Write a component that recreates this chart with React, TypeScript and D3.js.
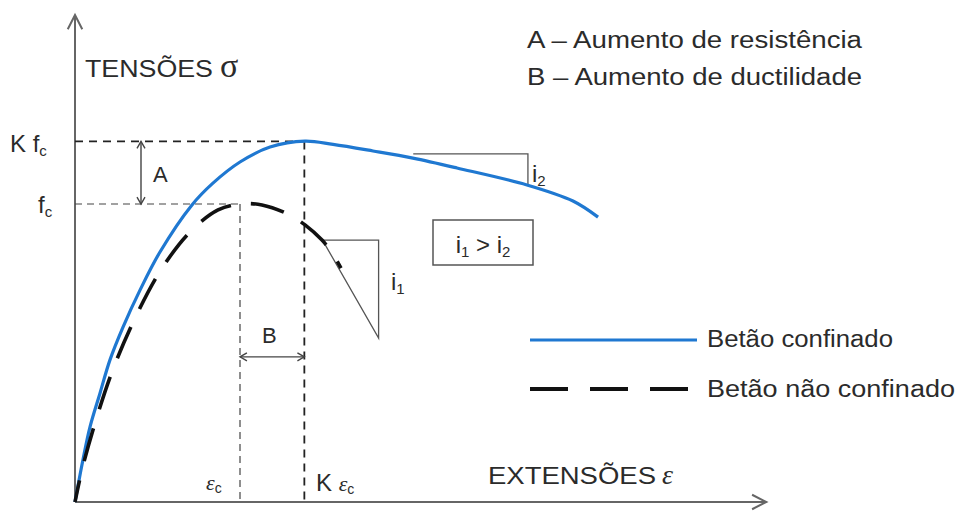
import React from "react";
import * as d3 from "d3";

// strain in units of εc, stress in units of fc
const confinedStrain = [0, 0.048, 0.091, 0.152, 0.212, 0.291, 0.394, 0.515, 0.709, 0.836, 1.0, 1.182, 1.394, 1.564, 1.806, 2.048, 2.315, 2.739, 3.018, 3.17];
const confinedStress = [0, 0.141, 0.252, 0.366, 0.477, 0.587, 0.711, 0.839, 0.997, 1.07, 1.141, 1.191, 1.211, 1.2, 1.178, 1.154, 1.121, 1.064, 1.01, 0.956];
const unconfinedStrain = [0, 0.042, 0.109, 0.224, 0.364, 0.521, 0.697, 0.867, 1.0, 1.133, 1.291, 1.394, 1.497, 1.558, 1.612];
const unconfinedStress = [0, 0.107, 0.242, 0.436, 0.617, 0.779, 0.906, 0.98, 1.0, 0.997, 0.966, 0.93, 0.879, 0.836, 0.785];

const peakStrain = 1.39; // K εc
const peakStress = 1.21; // K fc
const axisMaxStrain = 4.19;
const axisMaxStress = 1.634;

const legendLabels = ["Betão confinado", "Betão não confinado"];
const noteLabels = ["A – Aumento de resistência", "B – Aumento de ductilidade"];

const W = 960;
const H = 511;
const FONT = "'Liberation Sans', Arial, sans-serif";
const SERIF = "'Liberation Serif', 'DejaVu Serif', serif";
const TXT = "#2b2b2b";
const BLUE = "#1f78d1";

const x = d3.scaleLinear().domain([0, 1]).range([75, 240]);
const y = d3.scaleLinear().domain([0, 1]).range([502, 204]);

const line = d3
  .line<[number, number]>()
  .x((d) => x(d[0]))
  .y((d) => y(d[1]))
  .curve(d3.curveCatmullRom.alpha(0.5));

const confined = confinedStrain.map((e, i) => [e, confinedStress[i]] as [number, number]);
const unconfined = unconfinedStrain.map((e, i) => [e, unconfinedStress[i]] as [number, number]);

// small open arrow head at (px,py) pointing in direction angle (deg)
function head(px: number, py: number, ang: number, len = 9, spread = 28) {
  const a = (ang * Math.PI) / 180;
  const s = (spread * Math.PI) / 180;
  const p1 = [px - len * Math.cos(a - s), py - len * Math.sin(a - s)];
  const p2 = [px - len * Math.cos(a + s), py - len * Math.sin(a + s)];
  return `M${p1[0]},${p1[1]}L${px},${py}L${p2[0]},${p2[1]}`;
}

export default function App() {
  const x0 = x(0);
  const y0 = y(0);
  const xEnd = x(axisMaxStrain);
  const yTop = y(axisMaxStress);
  const xA = x(0.4);
  const yB = y(0.487);

  // slope triangles
  const t1 = { e0: 1.5, e1: 1.84, s0: 0.879, s1: 0.55 };
  const t2 = { e0: 2.05, e1: 2.745, s0: 1.168, s1: 1.067 };

  return (
    <svg width={W} height={H} style={{ position: "absolute", left: 0, top: 0, background: "#fff" }}>
      {/* axes */}
      <g stroke="#666" strokeWidth={2} fill="none">
        <line x1={x0} y1={y0} x2={x0} y2={yTop} />
        <line x1={x0} y1={y0} x2={xEnd} y2={y0} />
        <path d={head(x0, yTop, -90, 16, 27)} />
        <path d={head(xEnd, y0, 0, 16, 27)} />
      </g>

      {/* guide lines */}
      <g fill="none" stroke="#222">
        <line x1={x0} y1={y(peakStress)} x2={x(peakStrain)} y2={y(peakStress)} strokeWidth={1.8} strokeDasharray="8,6" />
        <line x1={x0} y1={y(1)} x2={x(1)} y2={y(1)} strokeWidth={1.2} strokeDasharray="7,5" stroke="#444" />
        <line x1={x(1)} y1={y(1)} x2={x(1)} y2={y0} strokeWidth={1.2} strokeDasharray="7,5" stroke="#444" />
        <line x1={x(peakStrain)} y1={y(peakStress)} x2={x(peakStrain)} y2={y0} strokeWidth={1.8} strokeDasharray="8,6" />
      </g>

      {/* A and B arrows */}
      <g fill="none" stroke="#444" strokeWidth={1.4}>
        <line x1={xA} y1={y(peakStress)} x2={xA} y2={y(1)} />
        <path d={head(xA, y(peakStress), -90, 8, 30)} />
        <path d={head(xA, y(1), 90, 8, 30)} />
        <line x1={x(1)} y1={yB} x2={x(peakStrain)} y2={yB} />
        <path d={head(x(1), yB, 180, 8, 30)} />
        <path d={head(x(peakStrain), yB, 0, 8, 30)} />
      </g>

      {/* slope triangles */}
      <g fill="none" stroke="#555" strokeWidth={1.3}>
        <path d={`M${x(t1.e0)},${y(t1.s0)}L${x(t1.e1)},${y(t1.s0)}L${x(t1.e1)},${y(t1.s1)}Z`} />
        <path d={`M${x(t2.e0)},${y(t2.s0)}L${x(t2.e1)},${y(t2.s0)}L${x(t2.e1)},${y(t2.s1)}`} />
      </g>

      {/* curves */}
      <path d={line(confined) ?? ""} fill="none" stroke={BLUE} strokeWidth={3.2} />
      <path d={line(unconfined) ?? ""} fill="none" stroke="#111" strokeWidth={3.6} strokeDasharray="34,20" strokeDashoffset={12} />

      {/* axis titles */}
      <text x={85} y={77} fontFamily={FONT} fontSize={24} fill={TXT} textLength={128} lengthAdjust="spacingAndGlyphs">TENSÕES</text>
      <text x={220} y={77} fontFamily={SERIF} fontSize={34} fill={TXT}>σ</text>
      <text x={488} y={484} fontFamily={FONT} fontSize={24} fill={TXT} textLength={168} lengthAdjust="spacingAndGlyphs">EXTENSÕES</text>
      <text x={662} y={484} fontFamily={SERIF} fontStyle="italic" fontSize={28} fill={TXT}>ε</text>

      {/* level labels */}
      <text x={10} y={152} fontFamily={FONT} fontSize={24} fill={TXT}>
        K f<tspan fontSize={15} dy={4}>c</tspan>
      </text>
      <text x={38} y={213} fontFamily={FONT} fontSize={24} fill={TXT}>
        f<tspan fontSize={15} dy={4}>c</tspan>
      </text>
      <text x={206} y={490} fontFamily={SERIF} fontStyle="italic" fontSize={22} fill={TXT}>
        ε<tspan fontFamily={FONT} fontStyle="normal" fontSize={14} dy={3}>c</tspan>
      </text>
      <text x={316} y={491} fontFamily={FONT} fontSize={24} fill={TXT}>
        K <tspan fontFamily={SERIF} fontStyle="italic" fontSize={22}>ε</tspan>
        <tspan fontSize={14} dy={3}>c</tspan>
      </text>

      <text x={153} y={182} fontFamily={FONT} fontSize={22} fill={TXT}>A</text>
      <text x={262} y={343} fontFamily={FONT} fontSize={22} fill={TXT}>B</text>

      {/* slope labels */}
      <text x={532} y={182} fontFamily={FONT} fontSize={24} fill={TXT}>
        i<tspan fontSize={15} dy={4}>2</tspan>
      </text>
      <text x={391} y={290} fontFamily={FONT} fontSize={24} fill={TXT}>
        i<tspan fontSize={15} dy={4}>1</tspan>
      </text>

      {/* i1 > i2 box */}
      <rect x={433} y={220} width={100} height={45} fill="none" stroke="#555" strokeWidth={1.5} />
      <text x={483} y={253} textAnchor="middle" fontFamily={FONT} fontSize={24} fill={TXT}>
        i<tspan fontSize={15} dy={4}>1</tspan>
        <tspan dy={-4}> &gt; i</tspan>
        <tspan fontSize={15} dy={4}>2</tspan>
      </text>

      {/* notes */}
      {noteLabels.map((t, i) => (
        <text key={t} x={527} y={48 + i * 37} fontFamily={FONT} fontSize={23} fill={TXT} textLength={335} lengthAdjust="spacingAndGlyphs">
          {t}
        </text>
      ))}

      {/* legend */}
      <line x1={530} y1={340} x2={697} y2={340} stroke={BLUE} strokeWidth={3.2} />
      <line x1={530} y1={389} x2={697} y2={389} stroke="#111" strokeWidth={4} strokeDasharray="38,22" />
      {legendLabels.map((t, i) => (
        <text key={t} x={707} y={347 + i * 50} fontFamily={FONT} fontSize={23} fill={TXT} textLength={i === 0 ? 186 : 248} lengthAdjust="spacingAndGlyphs">
          {t}
        </text>
      ))}
    </svg>
  );
}
